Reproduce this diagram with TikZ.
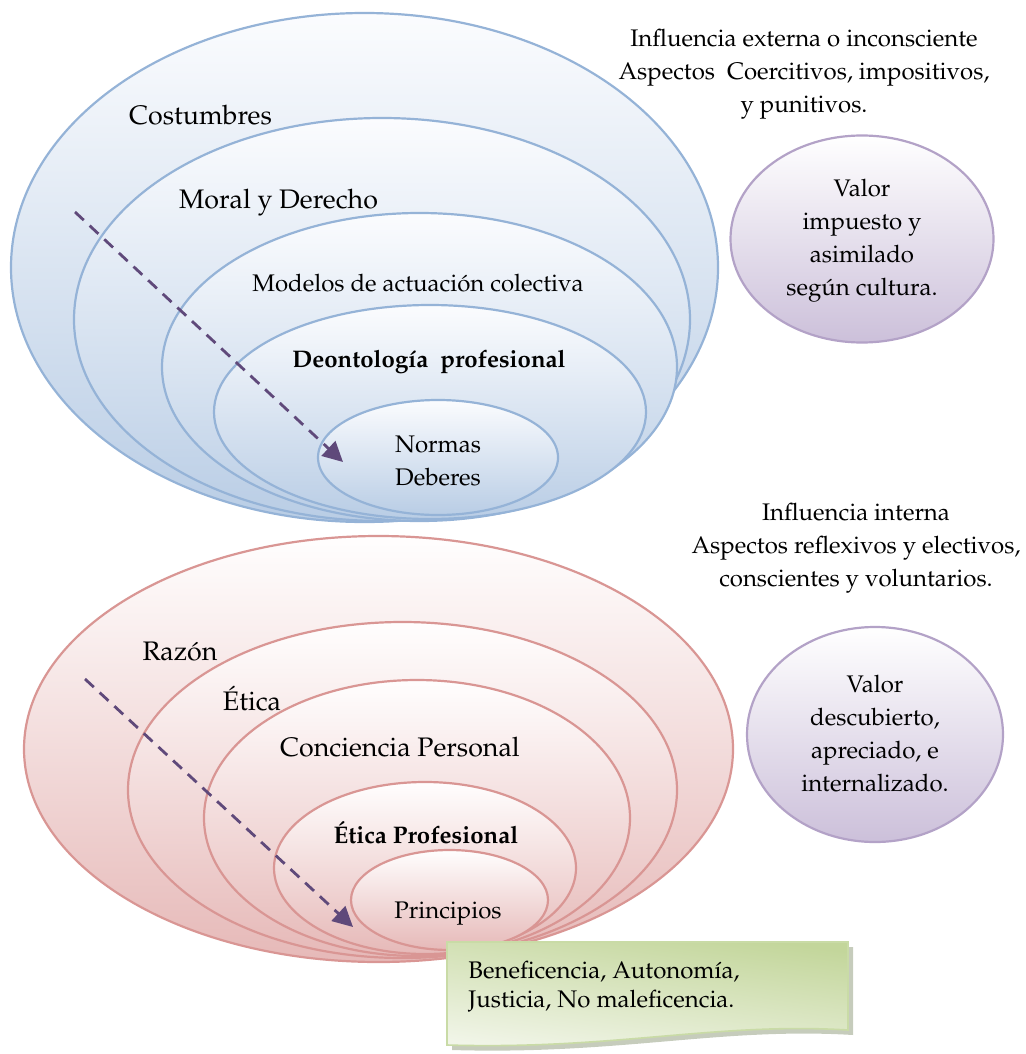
\documentclass[tikz,border=0pt]{standalone}
\usepackage[T1]{fontenc}
\usepackage{mathpazo}
\usetikzlibrary{shapes.geometric,arrows.meta}

\definecolor{bLine}{HTML}{95B3D7}
\definecolor{bFill}{HTML}{B9CDE5}
\definecolor{bTop}{HTML}{FBFCFE}
\definecolor{rLine}{HTML}{D99694}
\definecolor{rFill}{HTML}{E6B9B8}
\definecolor{rTop}{HTML}{FFFEFE}
\definecolor{pLine}{HTML}{B3A2C7}
\definecolor{pFill}{HTML}{CCC0DA}
\definecolor{arrowC}{HTML}{5F497A}
\definecolor{gDark}{HTML}{C3D69B}
\definecolor{gLight}{HTML}{F1F5E8}
\definecolor{gEdge}{HTML}{C9DBA6}
\definecolor{gShadow}{HTML}{8E9A7A}

\tikzset{
  ring/.style={ellipse, inner sep=0pt, line width=1.1pt},
  bluering/.style={ring, draw=bLine, top color=bTop, bottom color=bFill},
  redring/.style={ring, draw=rLine, top color=rTop, bottom color=rFill},
  valuering/.style={ring, draw=pLine, top color=white, bottom color=pFill},
  label/.style={inner sep=0pt, font=\fontsize{12}{16.5}\selectfont, align=center},
  biglabel/.style={label, font=\fontsize{13.4}{16.5}\selectfont},
  flow/.style={draw=arrowC, line width=1.4pt, dash pattern=on 6pt off 4pt,
    -{Triangle[length=10pt,width=10pt]}},
}

\begin{document}
\begin{tikzpicture}[x=0.5pt,y=-0.5pt]
\useasboundingbox (0,0) rectangle (1026,1054);

% ---- external influence: nested rings ----
\node[bluering, minimum width=353.5pt, minimum height=254.5pt] (costumbres) at (364.5,267.5) {};
\node[bluering, minimum width=308pt, minimum height=201.5pt] (moral) at (382,319.5) {};
\node[bluering, minimum width=257.5pt, minimum height=154pt] (modelos) at (419.5,367) {};
\node[bluering, minimum width=216pt, minimum height=107pt] (deonto) at (430,412) {};
\node[bluering, minimum width=120pt, minimum height=57.5pt] (normas) at (438,457.5) {};

\node[biglabel] (tCost) at (200.5,115) {Costumbres};
\node[biglabel] (tMoral) at (278.5,203) {Moral y Derecho};
\node[label] (tMod) at (418,283) {Modelos de actuaci\'on colectiva};
\node[label, font=\fontsize{12}{16.5}\selectfont\bfseries] (tDeon) at (429,362) {Deontolog\'{\i}a~~profesional};
\node[label] (tNorm) at (438,461) {Normas\\Deberes};

\coordinate (bStart) at (75,212);
\coordinate (bEnd) at (343,462);
\draw[flow] (bStart) -- (bEnd);

\node[label] (extText) at (804,74) {Influencia externa o inconsciente\\Aspectos~~Coercitivos, impositivos,\\y punitivos.};
\node[valuering, minimum width=131.5pt, minimum height=103.5pt] (valor1) at (862,239) {};
\node[label] (valor1t) at (862,241) {Valor\\impuesto y\\asimilado\\seg\'un cultura.};

% ---- internal influence: nested rings ----
\node[redring, minimum width=354.5pt, minimum height=213pt] (razon) at (378.5,749) {};
\node[redring, minimum width=274.5pt, minimum height=168pt] (etica) at (402.5,790) {};
\node[redring, minimum width=213pt, minimum height=138pt] (conciencia) at (417,818) {};
\node[redring, minimum width=151pt, minimum height=86pt] (eticaprof) at (425,868) {};
\node[redring, minimum width=98.5pt, minimum height=50pt] (principios) at (449.5,900) {};

\node[biglabel] (tRaz) at (180,651) {Raz\'on};
\node[biglabel] (tEt) at (252,698) {\'Etica};
\node[biglabel] (tCon) at (400,747) {Conciencia Personal};
\node[label, font=\fontsize{12}{16.5}\selectfont\bfseries] (tEP) at (426,832) {\'Etica Profesional};
\node[label] (tPri) at (448,914) {Principios};

\coordinate (rStart) at (85,679);
\coordinate (rEnd) at (353,927);
\draw[flow] (rStart) -- (rEnd);

\node[label] (intText) at (856,548) {Influencia interna\\Aspectos reflexivos y electivos,\\conscientes y voluntarios.};
\node[valuering, minimum width=128pt, minimum height=107.5pt] (valor2) at (875,734.5) {};
\node[label] (valor2t) at (875,734) {Valor\\descubierto,\\apreciado, e\\internalizado.};

% ---- note with the principles ----
\fill[gShadow, opacity=0.5]
  (452,947) -- (853,947) -- (853,1035)
  .. controls (720,1027) and (620,1055) .. (452,1050) -- cycle;
\shade[top color=gDark, bottom color=gLight, shading angle=-8, draw=gEdge, line width=0.8pt]
  (447,942) -- (848,942) -- (848,1030)
  .. controls (715,1022) and (615,1050) .. (447,1045) -- cycle;
\node[label, align=left, anchor=west, font=\fontsize{12}{14.5}\selectfont] (note) at (468,987)
  {Beneficencia, Autonom\'{\i}a,\\Justicia, No maleficencia.};
\end{tikzpicture}
\end{document}
